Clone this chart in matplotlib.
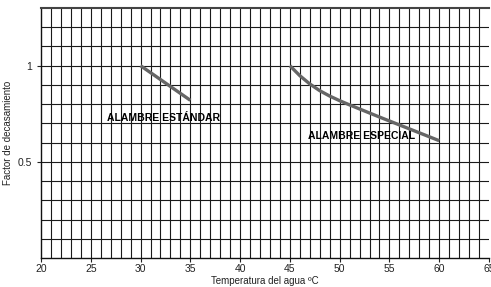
import matplotlib
matplotlib.use("Agg")
import matplotlib.pyplot as plt
import numpy as np

plt.rcParams['font.family'] = ['Liberation Sans', 'DejaVu Sans']

std_x = [30, 35]
std_y = [1.0, 0.82]
spec_x = [45, 46, 47, 48, 49, 50, 51, 52, 54, 56, 58, 60]
spec_y = [1.0, 0.948, 0.905, 0.87, 0.842, 0.818, 0.796, 0.775, 0.733, 0.692, 0.651, 0.61]
xticks = [20, 25, 30, 35, 40, 45, 50, 55, 60, 65]
yticks = [0.5, 1.0]
ytick_labels = ['0.5', '1']

fig = plt.figure(figsize=(4.91, 2.87), dpi=100)
ax = fig.add_axes([41/491, 29/287, 448/491, 250/287])
ax.set_xlim(20, 65)
ax.set_ylim(0, 1.3)

for xv in np.arange(21, 65, 1):
    ax.axvline(xv, color='#1a1a1a', lw=0.8, zorder=1)
for yv in np.arange(0.1, 1.3, 0.1):
    ax.axhline(yv, color='#1a1a1a', lw=0.8, zorder=1)

ax.plot(std_x, std_y, color='#666666', lw=2.4, solid_capstyle='butt', zorder=3)
ax.plot(spec_x, spec_y, color='#666666', lw=2.4, solid_capstyle='butt',
        solid_joinstyle='round', zorder=3)

ax.text(32.3, 0.73, 'ALAMBRE ESTÁNDAR', fontsize=7.5, fontweight='bold',
        ha='center', va='center', zorder=4)
ax.text(52.2, 0.634, 'ALAMBRE ESPECIAL', fontsize=7.5, fontweight='bold',
        ha='center', va='center', zorder=4)

ax.set_xticks(xticks)
ax.set_xticklabels([str(t) for t in xticks])
ax.set_yticks(yticks)
ax.set_yticklabels(ytick_labels)
ax.tick_params(axis='both', labelsize=7.5, length=3, width=0.8, colors='#222222')
ax.tick_params(axis='x', pad=1.5)
ax.set_xlabel('Temperatura del agua ºC', fontsize=7, labelpad=1, color='#222222')
ax.set_ylabel('Factor de decasamiento', fontsize=7, labelpad=3, color='#222222')

for s in ['left', 'bottom']:
    ax.spines[s].set_color('#111111')
    ax.spines[s].set_linewidth(1.0)
ax.spines['top'].set_color('#444444')
ax.spines['top'].set_linewidth(1.5)
ax.spines['right'].set_visible(False)

fig.savefig('out.png', dpi=100)
